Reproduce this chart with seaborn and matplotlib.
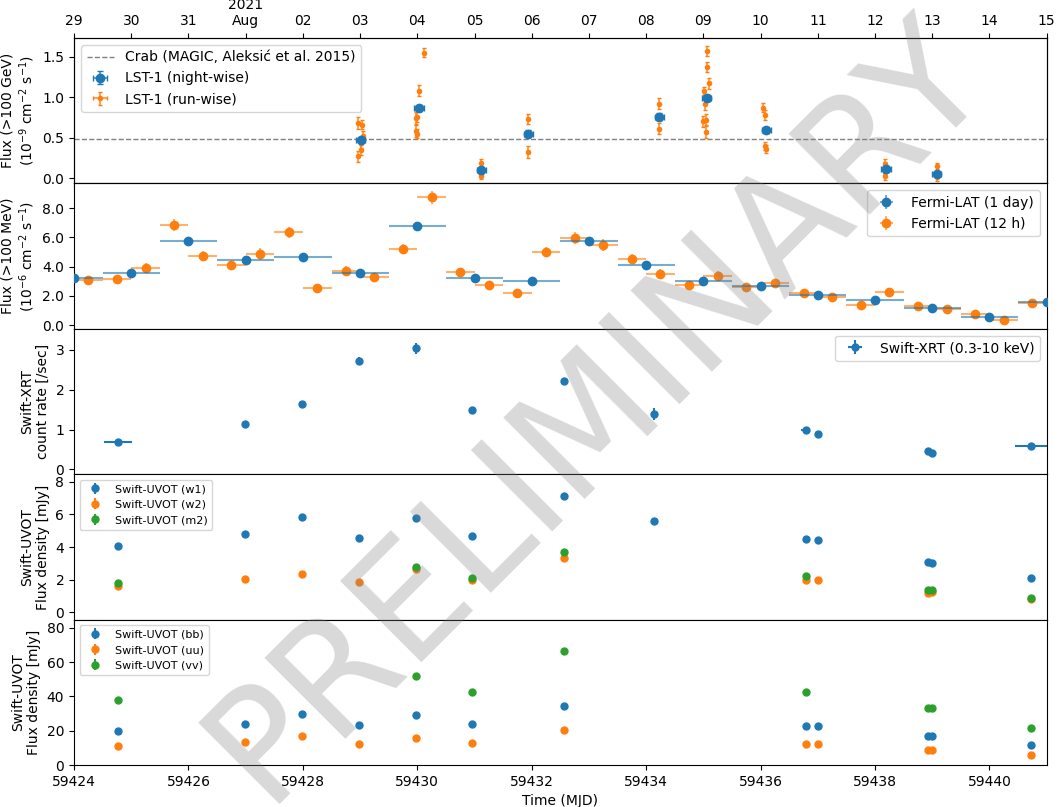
import matplotlib
matplotlib.use("Agg")
import matplotlib.pyplot as plt
import seaborn as sns

# ---- LST-1 (>100 GeV) ----
lst_night_mjd = [59429.01, 59430.03, 59431.12, 59431.94, 59434.23, 59435.06, 59436.10, 59438.19, 59439.08]
lst_night_flux = [0.47, 0.86, 0.10, 0.55, 0.76, 0.99, 0.59, 0.11, 0.05]
lst_night_err = [0.03, 0.03, 0.03, 0.04, 0.04, 0.04, 0.03, 0.03, 0.03]

lst_run_mjd = [59428.96, 59429.04, 59429.05, 59429.01, 59429.02, 59428.97,
               59430.12, 59430.03, 59429.97, 59430.00, 59429.97, 59430.00,
               59431.12, 59431.12, 59431.11,
               59431.94, 59431.94,
               59434.22, 59434.23,
               59435.07, 59435.06, 59435.09, 59435.01, 59435.03, 59435.00, 59435.04, 59435.05,
               59436.05, 59436.07, 59436.08, 59436.10,
               59438.17, 59438.18, 59438.17, 59438.18,
               59439.09, 59439.08]
lst_run_flux = [0.68, 0.66, 0.52, 0.43, 0.35, 0.27,
                1.55, 1.08, 0.74, 0.76, 0.58, 0.55,
                0.19, 0.05, 0.03,
                0.73, 0.32,
                0.92, 0.61,
                1.57, 1.37, 1.17, 1.07, 0.91, 0.70, 0.72, 0.57,
                0.87, 0.78, 0.40, 0.36,
                0.18, 0.15, 0.08, 0.03,
                0.15, 0.01]
lst_run_err = [0.07, 0.06, 0.06, 0.06, 0.06, 0.07,
               0.05, 0.07, 0.07, 0.07, 0.07, 0.06,
               0.04, 0.04, 0.04,
               0.06, 0.07,
               0.07, 0.07,
               0.06, 0.06, 0.07, 0.05, 0.07, 0.07, 0.07, 0.07,
               0.06, 0.06, 0.05, 0.05,
               0.05, 0.05, 0.05, 0.05,
               0.04, 0.04]
crab_flux = 0.48

# ---- Fermi-LAT (>100 MeV) ----
fermi_day_mjd = [59424 + i for i in range(18)]
fermi_day_flux = [3.20, 3.57, 5.75, 4.47, 4.69, 3.55, 6.78, 3.23, 3.05,
                  5.77, 4.12, 3.02, 2.68, 2.06, 1.74, 1.19, 0.55, 1.58]
fermi_day_err = [0.18, 0.18, 0.22, 0.2, 0.2, 0.18, 0.25, 0.18, 0.17,
                 0.22, 0.2, 0.17, 0.16, 0.15, 0.14, 0.12, 0.1, 0.15]

fermi_12h_mjd = [59424.25 + 0.5 * i for i in range(34)]
fermi_12h_flux = [3.09, 3.16, 3.92, 6.85, 4.72, 4.08, 4.88, 6.34, 2.56, 3.73,
                  3.27, 5.20, 8.75, 3.62, 2.77, 2.17, 4.99, 5.95, 5.50, 4.54,
                  3.51, 2.77, 3.39, 2.58, 2.86, 2.20, 1.90, 1.37, 2.27, 1.28,
                  1.10, 0.73, 0.34, 1.51]
fermi_12h_err = [0.3, 0.3, 0.35, 0.4, 0.35, 0.3, 0.4, 0.35, 0.25, 0.3,
                 0.3, 0.35, 0.45, 0.3, 0.25, 0.2, 0.35, 0.4, 0.4, 0.35,
                 0.3, 0.25, 0.3, 0.25, 0.3, 0.25, 0.2, 0.2, 0.3, 0.2,
                 0.2, 0.15, 0.1, 0.2]

# ---- Swift-XRT ----
xrt_mjd = [59424.77, 59426.98, 59427.98, 59428.98, 59429.97, 59430.95, 59432.56,
           59434.14, 59436.79, 59437.00, 59438.93, 59438.99, 59440.72]
xrt_rate = [0.69, 1.13, 1.64, 2.73, 3.04, 1.48, 2.21, 1.38, 0.98, 0.88, 0.46, 0.42, 0.60]
xrt_err = [0.05, 0.06, 0.07, 0.1, 0.14, 0.07, 0.09, 0.15, 0.06, 0.06, 0.04, 0.04, 0.05]
xrt_xerr = [0.24, 0.03, 0.03, 0.03, 0.03, 0.03, 0.03, 0.03, 0.08, 0.03, 0.03, 0.03, 0.28]

# ---- Swift-UVOT UV filters ----
w1_mjd = [59424.77, 59426.98, 59427.98, 59428.98, 59429.97, 59430.95, 59432.56,
          59434.14, 59436.79, 59437.00, 59438.93, 59438.99, 59440.72]
w1_flux = [4.05, 4.82, 5.87, 4.56, 5.79, 4.66, 7.14, 5.62, 4.49, 4.41, 3.08, 3.04, 2.09]
w2_mjd = [59424.77, 59426.98, 59427.98, 59428.98, 59429.97, 59430.95, 59432.56,
          59436.79, 59437.00, 59438.93, 59438.99, 59440.72]
w2_flux = [1.61, 2.05, 2.34, 1.83, 2.65, 1.95, 3.30, 1.95, 1.97, 1.19, 1.22, 0.83]
m2_mjd = [59424.77, 59429.97, 59430.95, 59432.56, 59436.79, 59438.93, 59438.99, 59440.72]
m2_flux = [1.81, 2.79, 2.09, 3.67, 2.22, 1.34, 1.34, 0.90]

# ---- Swift-UVOT optical filters ----
bb_mjd = [59424.77, 59426.98, 59427.98, 59428.98, 59429.97, 59430.95, 59432.56,
          59436.79, 59437.00, 59438.93, 59438.99, 59440.72]
bb_flux = [20.1, 23.9, 29.7, 23.4, 29.3, 23.8, 34.2, 23.0, 22.8, 17.0, 17.0, 11.6]
uu_mjd = bb_mjd
uu_flux = [11.0, 13.7, 16.8, 12.3, 15.6, 12.9, 20.5, 12.5, 12.5, 9.0, 9.0, 6.0]
vv_mjd = [59424.77, 59429.97, 59430.95, 59432.56, 59436.79, 59438.93, 59438.99, 59440.72]
vv_flux = [38.0, 51.9, 42.3, 66.4, 42.7, 33.4, 33.4, 21.8]

top_ticks = list(range(59424, 59442))
top_labels = ["29", "30", "31", "2021\nAug", "02", "03", "04", "05", "06",
              "07", "08", "09", "10", "11", "12", "13", "14", "15"]

pal = sns.color_palette("tab10")
blue, orange, green = pal[0], pal[1], pal[2]
plt.rcParams["font.size"] = 10


def fade_bars(cont, alpha=0.6):
    for lc in cont[2]:
        lc.set_alpha(alpha)


fig, axes = plt.subplots(5, 1, sharex=True, figsize=(10.59, 8.07), dpi=100)
plt.subplots_adjust(left=0.0699, right=0.9884, top=0.953, bottom=0.052, hspace=0)

# panel 1: LST-1
ax = axes[0]
ax.axhline(crab_flux, color="gray", ls="--", lw=1, label="Crab (MAGIC, Aleksić et al. 2015)")
c = ax.errorbar(lst_night_mjd, lst_night_flux, yerr=lst_night_err, xerr=0.08, fmt="o",
                color=blue, ms=6, capsize=2, label="LST-1 (night-wise)", zorder=3)
fade_bars(c, 0.7)
c = ax.errorbar(lst_run_mjd, lst_run_flux, yerr=lst_run_err, xerr=0.01, fmt="o",
                color=orange, ms=3, capsize=1.5, label="LST-1 (run-wise)", zorder=2)
fade_bars(c, 0.7)
ax.set_ylim(-0.065, 1.73)
ax.set_yticks([0.0, 0.5, 1.0, 1.5])
ax.yaxis.set_major_formatter(matplotlib.ticker.FormatStrFormatter("%.1f"))
ax.set_ylabel("Flux (>100 GeV)\n(10$^{-9}$ cm$^{-2}$ s$^{-1}$)")
ax.legend(loc="upper left")

ax_top = ax.twiny()
ax_top.set_xlim(59424, 59441)
ax_top.set_xticks(top_ticks)
ax_top.set_xticklabels(top_labels)

# panel 2: Fermi-LAT
ax = axes[1]
c = ax.errorbar(fermi_day_mjd, fermi_day_flux, yerr=fermi_day_err, xerr=0.5, fmt="o",
                color=blue, ms=6, label="Fermi-LAT (1 day)", zorder=3)
fade_bars(c)
c = ax.errorbar(fermi_12h_mjd, fermi_12h_flux, yerr=fermi_12h_err, xerr=0.25, fmt="o",
                color=orange, ms=6, label="Fermi-LAT (12 h)", zorder=2)
fade_bars(c)
ax.set_ylim(-0.25, 9.7)
ax.set_yticks([0, 2, 4, 6, 8])
ax.yaxis.set_major_formatter(matplotlib.ticker.FormatStrFormatter("%.1f"))
ax.set_ylabel("Flux (>100 MeV)\n(10$^{-6}$ cm$^{-2}$ s$^{-1}$)")
ax.legend(loc="upper right")

# panel 3: Swift-XRT
ax = axes[2]
ax.errorbar(xrt_mjd, xrt_rate, yerr=xrt_err, xerr=xrt_xerr, fmt="o",
            color=blue, ms=5, label="Swift-XRT (0.3-10 keV)")
ax.set_ylim(-0.12, 3.53)
ax.set_yticks([0, 1, 2, 3])
ax.set_ylabel("Swift-XRT\ncount rate [/sec]")
ax.legend(loc="upper right")

# panel 4: Swift-UVOT UV
ax = axes[3]
for xs, ys, col, name in [(w1_mjd, w1_flux, blue, "w1"),
                          (w2_mjd, w2_flux, orange, "w2"),
                          (m2_mjd, m2_flux, green, "m2")]:
    ax.errorbar(xs, ys, yerr=[0.015 * v for v in ys], fmt="o", color=col, ms=5,
                label=f"Swift-UVOT ({name})")
ax.set_ylim(-0.45, 8.47)
ax.set_yticks([0, 2, 4, 6, 8])
ax.set_ylabel("Swift-UVOT\nFlux density [mJy]")
ax.legend(loc="upper left", fontsize=8)

# panel 5: Swift-UVOT optical
ax = axes[4]
for xs, ys, col, name in [(bb_mjd, bb_flux, blue, "bb"),
                          (uu_mjd, uu_flux, orange, "uu"),
                          (vv_mjd, vv_flux, green, "vv")]:
    ax.errorbar(xs, ys, yerr=[0.015 * v for v in ys], fmt="o", color=col, ms=5,
                label=f"Swift-UVOT ({name})")
ax.set_ylim(0, 84.8)
ax.set_yticks([0, 20, 40, 60, 80])
ax.set_ylabel("Swift-UVOT\nFlux density [mJy]")
ax.legend(loc="upper left", fontsize=8)
ax.set_xlim(59424, 59441)
ax.set_xticks(list(range(59424, 59441, 2)))
ax.xaxis.set_major_formatter(matplotlib.ticker.FormatStrFormatter("%d"))
ax.set_xlabel("Time (MJD)")

fig.text(0.564, 0.492, "PRELIMINARY", fontsize=112, color="gray", alpha=0.3,
         rotation=45, ha="center", va="center", zorder=100)

fig.savefig("out.png", dpi=100)
